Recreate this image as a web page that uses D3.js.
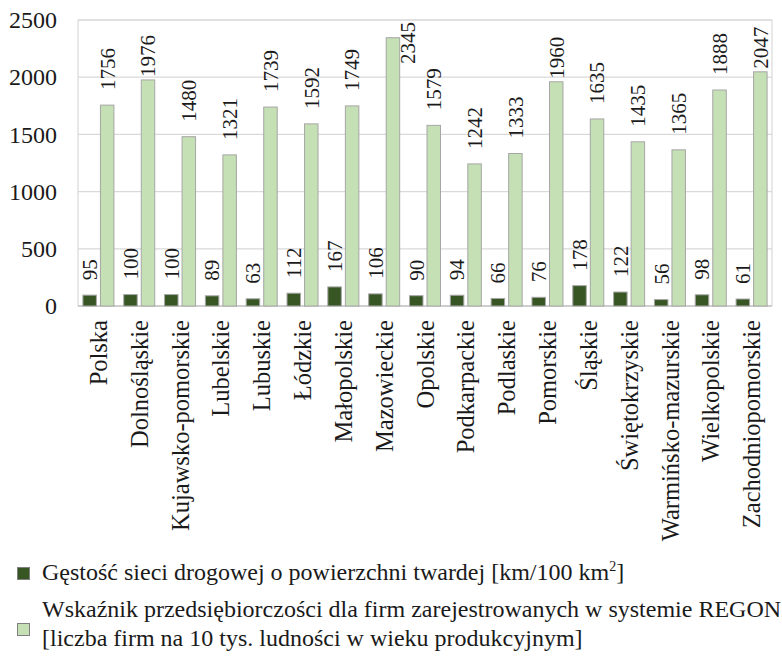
<!DOCTYPE html>
<html><head><meta charset="utf-8">
<script src="https://cdn.jsdelivr.net/npm/d3@7"></script>
</head><body style="margin:0;background:#fff">
<svg id="chart" width="782" height="661" font-family="Liberation Serif, serif"><style>text, tspan { font-family: "Liberation Serif", "Times New Roman", serif !important; }</style></svg>
<script>
const categories = ["Polska","Dolnośląskie","Kujawsko-pomorskie","Lubelskie","Lubuskie","Łódzkie","Małopolskie","Mazowieckie","Opolskie","Podkarpackie","Podlaskie","Pomorskie","Śląskie","Świętokrzyskie","Warmińsko-mazurskie","Wielkopolskie","Zachodniopomorskie"];
const roadDensity = [95,100,100,89,63,112,167,106,90,94,66,76,178,122,56,98,61];
const entrepreneurship = [1756,1976,1480,1321,1739,1592,1749,2345,1579,1242,1333,1960,1635,1435,1365,1888,2047];
const yTicks = [0,500,1000,1500,2000,2500];
const seriesNames = ["road","ent"];
const legendRoad = "Gęstość sieci drogowej o powierzchni twardej [km/100 km";
const legendEnt1 = "Wskaźnik przedsiębiorczości dla firm zarejestrowanych w systemie REGON";
const legendEnt2 = "[liczba firm na 10 tys. ludności w wieku produkcyjnym]";

const W = 782, H = 661;
const colors = {road:"#375623", ent:"#c5e0b4"};
const FONT = "Liberation Serif";
const textColor = "#1a1a1a";

const svg = d3.select("#chart");
function serif(sel){ return sel.attr("font-family",FONT); }

const m = {left:78, right:10, top:20, bottom:355};
const x0 = d3.scaleBand().domain(categories).range([m.left, W-m.right]).paddingInner(0).paddingOuter(0);
const x1 = d3.scaleBand().domain(seriesNames).range([0, x0.bandwidth()]).paddingInner(0.23).paddingOuter(0.28);
const y = d3.scaleLinear().domain([0,2500]).range([H-m.bottom, m.top]);

// gridlines
svg.append("g").selectAll("line").data(yTicks).join("line")
  .attr("x1",m.left).attr("x2",W-m.right)
  .attr("y1",d=>y(d)).attr("y2",d=>y(d))
  .attr("stroke","#d9d9d9").attr("stroke-width",1.2);
// plot border
svg.append("rect").attr("x",m.left).attr("y",m.top)
  .attr("width",W-m.right-m.left).attr("height",y(0)-m.top)
  .attr("fill","none").attr("stroke","#d9d9d9").attr("stroke-width",1.2);

// y axis
const yAxis = d3.axisLeft(y).tickValues(yTicks).tickSize(0).tickPadding(21).tickFormat(d3.format("d"));
const ya = svg.append("g").attr("transform",`translate(${m.left},0)`).call(yAxis);
serif(ya);
ya.select(".domain").remove();
serif(ya.selectAll("text")).attr("font-size",24).attr("fill",textColor);

// x axis line
svg.append("line").attr("x1",m.left).attr("x2",W-m.right).attr("y1",y(0)).attr("y2",y(0))
  .attr("stroke","#c8c8c8").attr("stroke-width",1.3);

// bars
const data = categories.map((c,i)=>({cat:c, road:roadDensity[i], ent:entrepreneurship[i]}));
const groups = svg.append("g").selectAll("g").data(data).join("g")
  .attr("transform",d=>`translate(${x0(d.cat)},0)`);
groups.selectAll("rect").data(d=>seriesNames.map(k=>({k, v:d[k]}))).join("rect")
  .attr("x",d=>x1(d.k)).attr("width",x1.bandwidth())
  .attr("y",d=>y(d.v)).attr("height",d=>y(0)-y(d.v))
  .attr("fill",d=>colors[d.k]).attr("stroke","#a6a6a6").attr("stroke-width",1);

// data labels
const labelSize = 21;
serif(groups.selectAll("text").data(d=>seriesNames.map(k=>({k, v:d[k]}))).join("text"))
  .attr("font-size",labelSize).attr("fill",textColor)
  .attr("text-anchor","start").attr("dy","0.35em")
  .each(function(d){
    const top = y(d.v);
    const len = String(d.v).length*labelSize*0.5;
    let start = top - 15;
    let dxShift = 0;
    if (start - len < m.top + 8) {
      start = top - 3;
      if (start - len < m.top) {
        start = m.top + len + 2;
        dxShift = x1.bandwidth()*0.5 + 8;
      }
    }
    const cx = x1(d.k) + x1.bandwidth()/2 + dxShift;
    d3.select(this).attr("transform",`translate(${cx},${start}) rotate(-90)`).text(d.v);
  });

// category labels
serif(svg.append("g").selectAll("text").data(categories).join("text"))
  .attr("transform",d=>`translate(${x0(d)+x0.bandwidth()/2},${y(0)+14}) rotate(-90)`)
  .attr("text-anchor","end").attr("dy","0.35em")
  .attr("font-size",24.5).attr("fill",textColor).text(d=>d);

// legend
const lg = svg.append("g");
lg.append("rect").attr("x",17.5).attr("y",567.5).attr("width",12).attr("height",12)
  .attr("fill",colors.road).attr("stroke","#7f7f7f").attr("stroke-width",1);
const t1 = serif(lg.append("text")).attr("x",42).attr("y",580)
  .attr("font-size",24).attr("fill",textColor).text(legendRoad);
t1.append("tspan").attr("font-size",14).attr("dy","-9").text("2");
t1.append("tspan").attr("dy","9").text("]");
lg.append("rect").attr("x",17.5).attr("y",623.5).attr("width",12).attr("height",12)
  .attr("fill",colors.ent).attr("stroke","#7f7f7f").attr("stroke-width",1);
serif(lg.append("text")).attr("x",42).attr("y",617)
  .attr("font-size",24).attr("fill",textColor).text(legendEnt1);
serif(lg.append("text")).attr("x",42).attr("y",646)
  .attr("font-size",24).attr("fill",textColor).text(legendEnt2);
</script>
</body></html>
